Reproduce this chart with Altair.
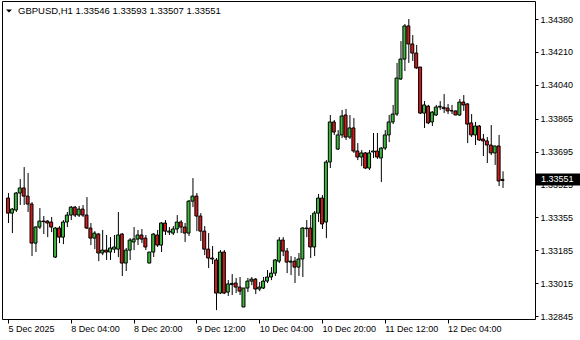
import altair as alt
import pandas as pd

symbol = "GBPUSD,H1"

opens = [1.33455, 1.33377, 1.33393, 1.33481, 1.33507, 1.33465, 1.33424, 1.33222, 1.33305, 1.33336,
         1.33336, 1.33331, 1.33150, 1.33300, 1.33253, 1.33331, 1.33367, 1.33408, 1.33367, 1.33398,
         1.33367, 1.33300, 1.33248, 1.33269, 1.33171, 1.33186, 1.33176, 1.33191, 1.33191, 1.33269,
         1.33119, 1.33186, 1.33228, 1.33243, 1.33264, 1.33248, 1.33119, 1.33176, 1.33264, 1.33212,
         1.33326, 1.33279, 1.33274, 1.33295, 1.33331, 1.33305, 1.33274, 1.33439, 1.33465, 1.33362,
         1.33284, 1.33191, 1.33145, 1.33135, 1.32964, 1.33176, 1.32969, 1.33008, 1.33016, 1.32995,
         1.32892, 1.32990, 1.33026, 1.33036, 1.32985, 1.32990, 1.33026, 1.33047, 1.33067, 1.33129,
         1.33238, 1.33181, 1.33124, 1.33129, 1.33098, 1.33140, 1.33300, 1.33300, 1.33202, 1.33377,
         1.33455, 1.33331, 1.33641, 1.33848, 1.33708, 1.33781, 1.33884, 1.33770, 1.33817, 1.33698,
         1.33667, 1.33688, 1.33610, 1.33693, 1.33698, 1.33662, 1.33713, 1.33781, 1.33848, 1.33889,
         1.34070, 1.34173, 1.34344, 1.34251, 1.34204, 1.34132, 1.33894, 1.33930, 1.33848, 1.33884,
         1.33925, 1.33924, 1.33920, 1.33905, 1.33905, 1.33884, 1.33951, 1.33941, 1.33843, 1.33781,
         1.33827, 1.33760, 1.33750, 1.33729, 1.33688, 1.33724, 1.33546]
highs = [1.33481, 1.33403, 1.33486, 1.33553, 1.33615, 1.33584, 1.33434, 1.33310, 1.33403, 1.33362,
         1.33341, 1.33357, 1.33305, 1.33310, 1.33341, 1.33383, 1.33414, 1.33414, 1.33414, 1.33419,
         1.33460, 1.33326, 1.33284, 1.33274, 1.33290, 1.33264, 1.33253, 1.33264, 1.33383, 1.33274,
         1.33197, 1.33248, 1.33305, 1.33290, 1.33295, 1.33264, 1.33176, 1.33274, 1.33290, 1.33331,
         1.33341, 1.33305, 1.33310, 1.33367, 1.33341, 1.33326, 1.33445, 1.33558, 1.33481, 1.33377,
         1.33310, 1.33274, 1.33207, 1.33145, 1.33186, 1.33186, 1.33031, 1.33062, 1.33042, 1.33047,
         1.32990, 1.33042, 1.33047, 1.33042, 1.33021, 1.33047, 1.33083, 1.33098, 1.33140, 1.33253,
         1.33253, 1.33197, 1.33155, 1.33150, 1.33171, 1.33305, 1.33341, 1.33367, 1.33388, 1.33476,
         1.33470, 1.33651, 1.33884, 1.33858, 1.33806, 1.33910, 1.33915, 1.33884, 1.33868, 1.33739,
         1.33703, 1.33693, 1.33703, 1.33791, 1.33791, 1.33718, 1.33806, 1.33884, 1.33936, 1.34153,
         1.34266, 1.34354, 1.34380, 1.34297, 1.34246, 1.34132, 1.33956, 1.33936, 1.33904, 1.33936,
         1.33956, 1.33992, 1.33941, 1.33936, 1.33907, 1.33967, 1.33987, 1.33946, 1.33889, 1.33848,
         1.33832, 1.33786, 1.33770, 1.33832, 1.33713, 1.33781, 1.33593]
lows = [1.33326, 1.33274, 1.33383, 1.33419, 1.33419, 1.33383, 1.33155, 1.33176, 1.33295, 1.33269,
        1.33253, 1.33279, 1.33145, 1.33222, 1.33217, 1.33305, 1.33341, 1.33357, 1.33357, 1.33357,
        1.33295, 1.33212, 1.33191, 1.33129, 1.33160, 1.33135, 1.33135, 1.33171, 1.33150, 1.33052,
        1.33078, 1.33135, 1.33186, 1.33212, 1.33222, 1.33186, 1.33119, 1.33150, 1.33202, 1.33176,
        1.33264, 1.33264, 1.33264, 1.33274, 1.33274, 1.33228, 1.33259, 1.33408, 1.33284, 1.33233,
        1.33160, 1.33093, 1.33114, 1.32876, 1.32959, 1.32959, 1.32949, 1.32954, 1.32964, 1.32954,
        1.32892, 1.32969, 1.33005, 1.32959, 1.32974, 1.32985, 1.33016, 1.33031, 1.33052, 1.33119,
        1.33155, 1.33067, 1.33057, 1.33016, 1.33052, 1.33047, 1.33253, 1.33145, 1.33155, 1.33331,
        1.33295, 1.33248, 1.33610, 1.33781, 1.33703, 1.33765, 1.33755, 1.33760, 1.33688, 1.33651,
        1.33620, 1.33605, 1.33600, 1.33662, 1.33657, 1.33538, 1.33703, 1.33744, 1.33837, 1.33879,
        1.34065, 1.34111, 1.34153, 1.34163, 1.34122, 1.33889, 1.33817, 1.33837, 1.33827, 1.33879,
        1.33910, 1.33894, 1.33889, 1.33889, 1.33884, 1.33879, 1.33905, 1.33739, 1.33770, 1.33729,
        1.33750, 1.33672, 1.33636, 1.33677, 1.33626, 1.33517, 1.33507]
closes = [1.33377, 1.33398, 1.33481, 1.33507, 1.33465, 1.33424, 1.33222, 1.33305, 1.33336, 1.33333,
          1.33326, 1.33305, 1.33300, 1.33253, 1.33331, 1.33367, 1.33408, 1.33367, 1.33398, 1.33367,
          1.33300, 1.33248, 1.33274, 1.33171, 1.33186, 1.33176, 1.33197, 1.33202, 1.33264, 1.33119,
          1.33186, 1.33238, 1.33243, 1.33264, 1.33243, 1.33202, 1.33176, 1.33269, 1.33212, 1.33326,
          1.33284, 1.33284, 1.33295, 1.33331, 1.33305, 1.33274, 1.33439, 1.33465, 1.33362, 1.33284,
          1.33191, 1.33145, 1.33140, 1.32964, 1.33176, 1.32964, 1.33011, 1.33014, 1.32995, 1.32974,
          1.32990, 1.33026, 1.33036, 1.32985, 1.32995, 1.33026, 1.33047, 1.33067, 1.33135, 1.33238,
          1.33181, 1.33124, 1.33129, 1.33098, 1.33140, 1.33300, 1.33297, 1.33202, 1.33377, 1.33455,
          1.33321, 1.33641, 1.33848, 1.33796, 1.33781, 1.33879, 1.33770, 1.33817, 1.33698, 1.33667,
          1.33688, 1.33610, 1.33688, 1.33698, 1.33667, 1.33713, 1.33781, 1.33848, 1.33889, 1.34075,
          1.34173, 1.34344, 1.34251, 1.34204, 1.34127, 1.33894, 1.33936, 1.33843, 1.33899, 1.33925,
          1.33929, 1.33917, 1.33905, 1.33907, 1.33884, 1.33951, 1.33936, 1.33837, 1.33781, 1.33827,
          1.33755, 1.33750, 1.33729, 1.33688, 1.33724, 1.33543, 1.33551]

tick_index = [0, 16, 32, 48, 64, 80, 96, 112]
tick_labels = ["5 Dec 2025", "8 Dec 04:00", "8 Dec 20:00", "9 Dec 12:00",
               "10 Dec 04:00", "10 Dec 20:00", "11 Dec 12:00", "12 Dec 04:00"]
price_ticks = [1.34380, 1.34210, 1.34040, 1.33865, 1.33695,
               1.33525, 1.33355, 1.33185, 1.33015, 1.32845]

UP = "#3cb83c"
DOWN = "#cc1b1b"
FONT = "Liberation Sans"

df = pd.DataFrame({
    "i": list(range(len(opens))),
    "open": opens, "high": highs, "low": lows, "close": closes,
})
df["dir"] = ["up" if c >= o else "down" for o, c in zip(opens, closes)]

W, H = 533, 318

label_expr = ""
for v, t in zip(tick_index, tick_labels):
    label_expr += f"datum.value == {v} ? '{t}' : "
label_expr += "''"

xaxis = alt.Axis(values=tick_index, labelExpr=label_expr, orient="bottom",
                 domain=False, grid=False, tickSize=4, tickColor="black",
                 labelAlign="left", labelBaseline="top", labelPadding=1,
                 labelFlush=False, labelOverlap=False, labelFont=FONT,
                 labelFontSize=9, labelColor="black")
xscale = alt.Scale(domain=[-0.25, 133], nice=False, zero=False)
yscale = alt.Scale(domain=[1.32830, 1.34473], nice=False, zero=False)
yaxis = alt.Axis(orient="right", values=price_ticks, format=".5f", domain=False,
                 grid=False, tickSize=3, tickColor="black", labelPadding=2,
                 labelBaseline="middle", labelFlush=False, labelOverlap=False,
                 labelBound=False, labelFont=FONT, labelFontSize=9,
                 labelColor="black")

base = alt.Chart(df)

wicks = base.mark_rule(color="black", strokeWidth=1, xOffset=0.5).encode(
    x=alt.X("i:Q", scale=xscale, axis=xaxis, title=None),
    y=alt.Y("low:Q", scale=yscale, axis=yaxis, title=None),
    y2="high:Q",
)

bodies = base.mark_bar(size=3, stroke="black", strokeWidth=1, opacity=1).encode(
    x=alt.X("i:Q", scale=xscale, axis=xaxis, title=None),
    y=alt.Y("open:Q", scale=yscale, axis=yaxis, title=None),
    y2="close:Q",
    color=alt.Color("dir:N", scale=alt.Scale(domain=["up", "down"], range=[UP, DOWN]),
                    legend=None),
)

last = df.tail(1)
title_str = f"{symbol}  {opens[-1]:.5f} {highs[-1]:.5f} {lows[-1]:.5f} {closes[-1]:.5f}"
title_df = pd.DataFrame({"t": [title_str]})

arrow = alt.Chart(title_df).mark_point(
    shape="M -1 -0.5 L 1 -0.5 L 0 0.5 Z", size=36, filled=True, color="black", opacity=1
).encode(x=alt.value(7), y=alt.value(10))

title_text = alt.Chart(title_df).mark_text(
    align="left", baseline="middle", font=FONT, fontSize=9.5, color="black"
).encode(x=alt.value(16), y=alt.value(10), text="t:N")

price_box = alt.Chart(last).mark_tick(
    orient="horizontal", size=44, thickness=12, color="black", opacity=1
).encode(x=alt.value(556), y=alt.Y("close:Q", scale=yscale, axis=yaxis, title=None))

price_text = alt.Chart(last).mark_text(
    align="left", baseline="middle", font=FONT, fontSize=9, color="white"
).encode(x=alt.value(539), y=alt.Y("close:Q", scale=yscale, axis=yaxis, title=None),
         text=alt.Text("close:Q", format=".5f"))

chart = alt.layer(wicks, bodies, price_box, price_text, arrow, title_text).properties(
    width=W, height=H,
    autosize=alt.AutoSizeParams(type="none"),
    padding={"left": 2, "top": 1, "right": 45, "bottom": 21},
    background="white",
).configure_view(stroke="black", strokeWidth=1).configure_axis(
    labelOverlap=False, labelFlush=False
)

chart.save("out.html", embed_options={"renderer": "svg", "actions": False})
